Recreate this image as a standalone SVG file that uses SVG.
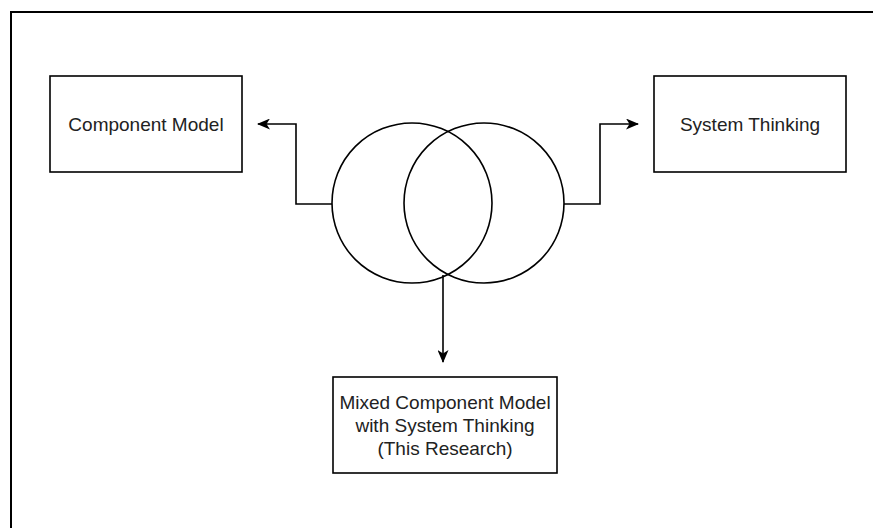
<svg xmlns="http://www.w3.org/2000/svg" width="873" height="528" viewBox="0 0 873 528">
<defs>
<style>
.box{fill:#fff;stroke:#000;stroke-width:1.6}
.t{font-family:"Liberation Sans",Arial,sans-serif;font-size:19px;fill:#222;text-anchor:middle}
.c{fill:none;stroke:#000;stroke-width:1.6}
.e{fill:none;stroke:#000;stroke-width:1.6}
</style>
<marker id="ah" viewBox="0 0 13 11" refX="12" refY="5.5" markerWidth="13" markerHeight="11" markerUnits="userSpaceOnUse" orient="auto">
<path d="M0,0 L13,5.5 L0,11 L3.5,5.5 Z" fill="#000"/>
</marker>
</defs>
<rect width="873" height="528" fill="#fff"/>
<path d="M11,528 V12 H873" fill="none" stroke="#000" stroke-width="2"/>
<g id="connectors">
<path class="e" d="M332,204 H296 V124 H258" marker-end="url(#ah)"/>
<path class="e" d="M564,204 H600 V124 H638" marker-end="url(#ah)"/>
<path class="e" d="M443,275 V362" marker-end="url(#ah)"/>
</g>
<g id="venn">
<circle class="c" cx="412" cy="203" r="80"/>
<circle class="c" cx="484" cy="203" r="80"/>
</g>
<g id="component-model">
<rect class="box" x="50" y="76" width="192" height="96"/>
<text class="t" x="146" y="131">Component Model</text>
</g>
<g id="system-thinking">
<rect class="box" x="654" y="76" width="192" height="96"/>
<text class="t" x="750" y="131">System Thinking</text>
</g>
<g id="mixed">
<rect class="box" x="333" y="377" width="224" height="96"/>
<text class="t" x="445" y="409">Mixed Component Model</text>
<text class="t" x="445" y="432">with System Thinking</text>
<text class="t" x="445" y="455">(This Research)</text>
</g>
</svg>
